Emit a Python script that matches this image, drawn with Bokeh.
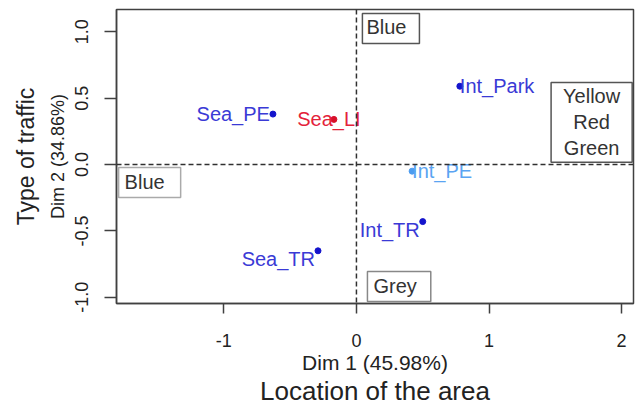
from bokeh.plotting import figure
from bokeh.models import Span, Label, Title, Range1d, FixedTicker, ColumnDataSource
from bokeh.embed import file_html
from bokeh.resources import INLINE

# Factor map coordinates (Dim 1, Dim 2) for each area/traffic category
names = ["Sea_PE", "Sea_LI", "Int_Park", "Int_PE", "Int_TR", "Sea_TR"]
dim1 = [-0.63, -0.17, 0.78, 0.42, 0.50, -0.29]
dim2 = [0.38, 0.34, 0.59, -0.05, -0.43, -0.65]

x_ticks = [-1, 0, 1, 2]
x_tick_labels = ["-1", "0", "1", "2"]
y_ticks = [-1.0, -0.5, 0.0, 0.5, 1.0]
y_tick_labels = ["-1.0", "-0.5", "0.0", "0.5", "1.0"]

dim1_title = "Dim 1 (45.98%)"
dim2_title = "Dim 2 (34.86%)"
x_title = "Location of the area"
y_title = "Type of traffic"

# Styling per point: dot colour, text colour, label placement
dot_colors = ["#1414cc", "#d8102a", "#1414cc", "#4c9cf0", "#1414cc", "#1414cc"]
text_colors = ["#3a3ad6", "#e4223a", "#3a3ad6", "#5aa4f2", "#3a3ad6", "#3a3ad6"]
placement = {
    "Sea_PE": ("right", "alphabetic", -3, 0),
    "Sea_LI": ("center", "alphabetic", -5, 0),
    "Int_Park": ("left", "alphabetic", 0, 0),
    "Int_PE": ("left", "middle", 0, 0),
    "Int_TR": ("right", "top", -3, -3),
    "Sea_TR": ("right", "top", -3, -3),
}

FONT = "Liberation Sans"
INK = "#333333"

p = figure(
    width=636, height=407,
    x_range=Range1d(-1.81, 2.09), y_range=Range1d(-1.047, 1.168),
    output_backend="svg", toolbar_location=None,
    min_border_left=116, min_border_right=3,
    min_border_top=9, min_border_bottom=104,
)
p.grid.visible = False
p.outline_line_color = "#404040"
p.outline_line_width = 1.5
p.background_fill_color = "white"
p.border_fill_color = "white"

for ax in (p.xaxis[0], p.yaxis[0]):
    ax.axis_line_color = "#404040"
    ax.axis_line_width = 1.5
    ax.major_tick_line_color = "#404040"
    ax.major_tick_line_width = 1.5
    ax.major_tick_in = 0
    ax.minor_tick_line_color = None
    ax.major_label_text_font = FONT
    ax.major_label_text_color = "#222222"
    ax.axis_label_text_font = FONT
    ax.axis_label_text_font_style = "normal"
    ax.axis_label_text_color = "#222222"

p.xaxis.ticker = FixedTicker(ticks=x_ticks)
p.xaxis.major_label_overrides = dict(zip(x_ticks, x_tick_labels))
p.xaxis.major_tick_out = 10
p.xaxis.major_label_standoff = 20
p.xaxis.major_label_text_font_size = "18px"
p.xaxis.axis_label = dim1_title
p.xaxis.axis_label_text_font_size = "21px"
p.xaxis.axis_label_standoff = 1

p.yaxis.ticker = FixedTicker(ticks=y_ticks)
p.yaxis.major_label_overrides = dict(zip(y_ticks, y_tick_labels))
p.yaxis.major_label_orientation = "vertical"
p.yaxis.major_tick_out = 12
p.yaxis.major_label_standoff = 16
p.yaxis.major_label_text_font_size = "18px"
p.yaxis.axis_label = dim2_title
p.yaxis.axis_label_text_font_size = "18px"
p.yaxis.axis_label_standoff = 5

p.add_layout(Title(text=x_title, align="center", text_font=FONT,
                   text_font_size="26px", text_font_style="normal",
                   text_color="#222222", standoff=-6), "below")
p.add_layout(Title(text=y_title, align="center", text_font=FONT,
                   text_font_size="23px", text_font_style="normal",
                   text_color="#222222", standoff=12), "left")

# Dashed origin lines
for dim, loc in (("width", 0), ("height", 0)):
    p.add_layout(Span(location=loc, dimension=dim, line_color="#303030",
                      line_width=1.5, line_dash="5 3"))

src = ColumnDataSource(dict(x=dim1, y=dim2, name=names, dot=dot_colors, txt=text_colors))
p.scatter("x", "y", source=src, size=6, color="dot")

for i, n in enumerate(names):
    align, base, dx, dy = placement[n]
    one = ColumnDataSource(dict(x=[dim1[i]], y=[dim2[i]], t=[n]))
    p.text("x", "y", text="t", source=one, text_align=align, text_baseline=base,
           x_offset=dx, y_offset=dy, text_font_size="20px", text_color=text_colors[i],
           text_font=dict(value=FONT))

# Boxed category annotations; padding given as (left, right, top, bottom)
boxes = [
    ("Blue", 0.045, 1.138, "top_left", "left", "#555555", (4, 13, 3, 5)),
    ("Blue", -1.794, -0.023, "top_left", "left", "#aaaaaa", (6, 16, 3, 5)),
    ("Yellow\nRed\nGreen", 2.08, 0.618, "top_right", "center", "#555555", (12, 12, 2, 3)),
    ("Grey", 0.083, -1.032, "bottom_left", "left", "#888888", (6, 14, 3, 5)),
]
for text, bx, by, anchor, align, border, pad in boxes:
    p.add_layout(Label(x=bx, y=by, text=text, anchor=anchor, text_align=align,
                       text_font=FONT, text_font_size="20px", text_color=INK,
                       border_line_color=border, border_line_width=1.5,
                       background_fill_color="white", padding=pad,
                       text_line_height=1.2))

open("out.html", "w").write(file_html(p, INLINE))
